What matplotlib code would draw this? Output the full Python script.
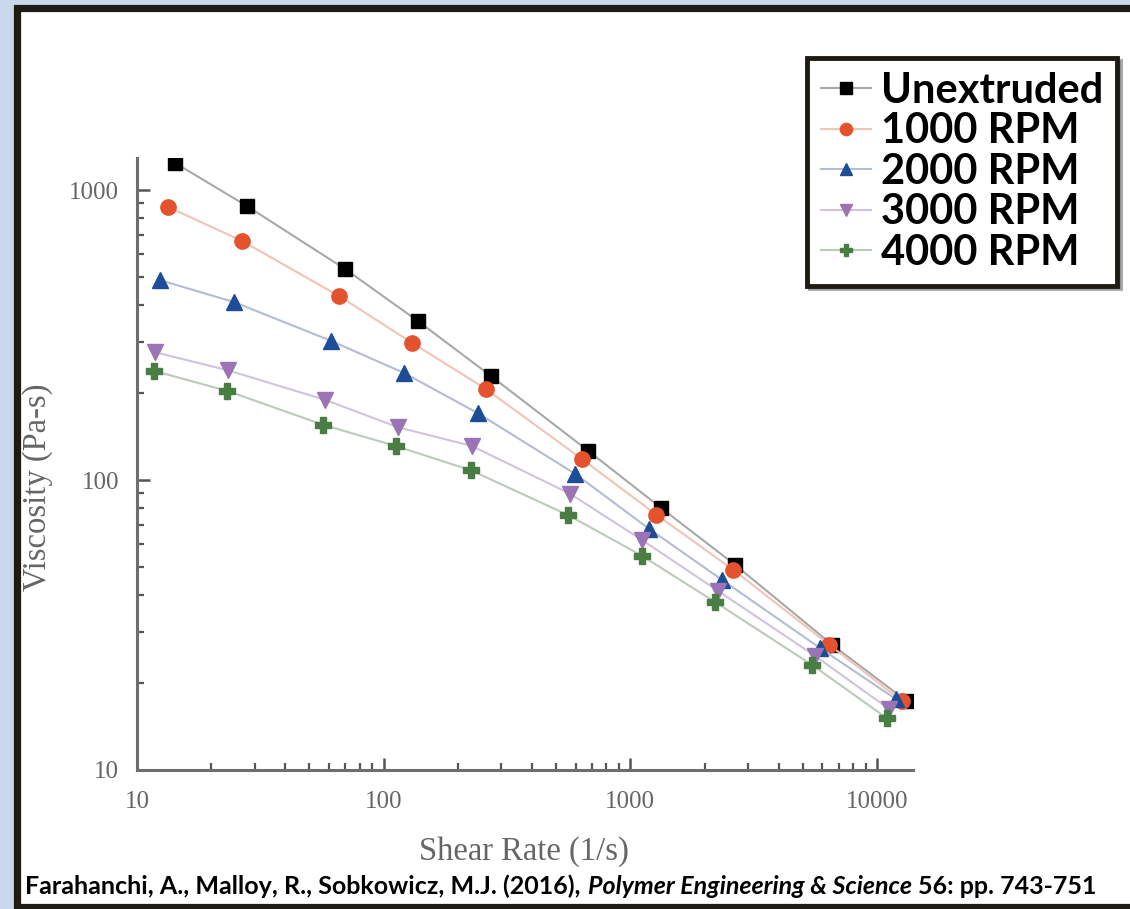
import matplotlib.pyplot as plt
from matplotlib.patches import Rectangle
from matplotlib.ticker import LogLocator, NullFormatter, FixedLocator, FixedFormatter

# data (shear rate in 1/s, viscosity in Pa-s)
labels = ['Unextruded', '1000 RPM', '2000 RPM', '3000 RPM', '4000 RPM']

rate_unext = [14.3, 27.9, 69.8, 138, 273, 676, 1336, 2667, 6600, 13170]
visc_unext = [1239, 881, 534, 353, 228, 126, 80, 50.9, 27, 17.3]

rate_1000 = [13.4, 26.7, 66, 130.6, 260, 638, 1274, 2617, 6420, 12600]
visc_1000 = [874, 667, 431, 297, 206, 118, 76, 49, 27, 17.3]

rate_2000 = [12.4, 24.7, 61.2, 121, 241, 598, 1194, 2360, 5890, 11890]
visc_2000 = [489, 411, 302, 234, 170, 105, 67.8, 45.2, 26.3, 17.6]

rate_3000 = [11.8, 23.4, 57.9, 114.5, 228, 571, 1119, 2275, 5630, 11230]
visc_3000 = [276, 239, 189, 152, 131, 89.6, 62, 41.4, 24.7, 16.2]

rate_4000 = [11.7, 23.2, 56.9, 112, 226, 560, 1119, 2213, 5470, 10960]
visc_4000 = [238, 203, 155, 131, 108, 75.7, 54.7, 37.9, 23, 15.1]

rates = [rate_unext, rate_1000, rate_2000, rate_3000, rate_4000]
viscs = [visc_unext, visc_1000, visc_2000, visc_3000, visc_4000]
markers = ['s', 'o', '^', 'v', 'P']
msizes = [10.5, 11, 11, 11, 11]
mcolors = ['#000000', '#e4522e', '#1d4d97', '#9a74b4', '#4a7d43']
lcolors = ['#a8a8a8', '#f0c4b6', '#b4bcd4', '#cfc4dc', '#bccabb']

citation = ['Farahanchi, A., Malloy, R., Sobkowicz, M.J. (2016),',
            'Polymer Engineering & Science',
            '56: pp. 743-751']

fig = plt.figure(figsize=(11.30, 9.09), dpi=100)
fig.patch.set_facecolor('#c9d9eb')

# slide frame, kept behind the axes
fig.patches.append(Rectangle((16.5 / 1130, 2 / 909), 1.1, 1 - 10 / 909,
                             transform=fig.transFigure, facecolor='white',
                             edgecolor='#1e1b14', linewidth=5.2, zorder=-5))

ax = fig.add_axes([137 / 1130, 1 - 770 / 909, (913 - 137) / 1130, (770 - 158) / 909])
ax.set_zorder(2)
ax.patch.set_alpha(0)

for x, y, m, ms, mc, lc, lab in zip(rates, viscs, markers, msizes, mcolors, lcolors, labels):
    ax.plot(x, y, '-', color=lc, lw=1.5, marker=m, ms=ms, mfc=mc, mec=mc,
            label=lab, zorder=3)

ax.set_xscale('log')
ax.set_yscale('log')
ax.set_xlim(10, 14000)
ax.set_ylim(10, 1290)

for s in ['top', 'right']:
    ax.spines[s].set_visible(False)
for s in ['left', 'bottom']:
    ax.spines[s].set_color('#6e6e6e')
    ax.spines[s].set_linewidth(2.2)

ax.xaxis.set_major_locator(FixedLocator([10, 100, 1000, 10000]))
ax.xaxis.set_major_formatter(FixedFormatter(['10', '100', '1000', '10000']))
ax.yaxis.set_major_locator(FixedLocator([10, 100, 1000]))
ax.yaxis.set_major_formatter(FixedFormatter(['10', '100', '1000']))
for a in [ax.xaxis, ax.yaxis]:
    a.set_minor_locator(LogLocator(base=10, subs=range(2, 10)))
    a.set_minor_formatter(NullFormatter())

ax.tick_params(which='major', direction='in', length=9, width=1.8, color='#555555',
               labelsize=18, labelcolor='#666666')
ax.tick_params(axis='x', which='major', pad=15)
ax.tick_params(axis='y', which='major', pad=13)
ax.tick_params(which='minor', direction='in', length=5, width=1.6, color='#555555')
for t in ax.get_xticklabels() + ax.get_yticklabels():
    t.set_family('Liberation Serif')

ax.set_xlabel('Shear Rate (1/s)', family='Liberation Serif', fontsize=23.5,
              color='#666666')
ax.set_ylabel('Viscosity (Pa-s)', family='Liberation Serif', fontsize=23.5,
              color='#666666')
ax.xaxis.set_label_coords(0.499, -0.108)
ax.yaxis.set_label_coords(-0.108, 0.462)

leg = fig.legend(loc='upper right', bbox_to_anchor=(1117 / 1130, 1 - 58 / 909),
                 borderaxespad=0,
                 prop={'family': 'Lato', 'weight': 'bold', 'size': 30},
                 handlelength=1.2, handletextpad=0.25, labelspacing=0.06,
                 borderpad=0.33, markerscale=0.8, fancybox=False, shadow=True,
                 framealpha=1)
leg.set_zorder(5)
leg.get_frame().set_edgecolor('#1e1b14')
leg.get_frame().set_linewidth(3.5)

# citation line, mixing upright and italic
fig.canvas.draw()
renderer = fig.canvas.get_renderer()
x = 25 / 1130
y = 1 - 886 / 909
styles = ['normal', 'italic', 'normal']
for piece, st in zip(citation, styles):
    t = fig.text(x, y, piece, family='Lato', weight='bold', style=st,
                 fontsize=18, color='black', va='center', ha='left')
    bb = t.get_window_extent(renderer)
    x = (bb.x1 + 7) / fig.bbox.width

fig.savefig('out.png', dpi=100, facecolor=fig.get_facecolor())
